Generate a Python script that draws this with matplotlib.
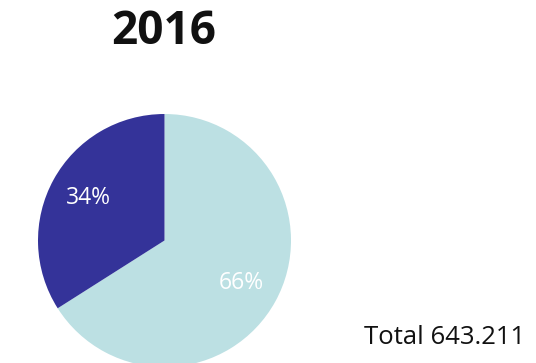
import matplotlib

matplotlib.use("Agg")

from matplotlib import pyplot as plt

year = "2016"
segments = ["Other", "Main"]
shares = [66, 34]
colors = ["#bce0e3", "#343399"]
total_label = "Total 643.211"

fig = plt.figure(figsize=(5.36, 3.63), dpi=100)
ax = fig.add_axes([0, 0, 1, 1])
ax.set_xlim(0, 536)
ax.set_ylim(0, 363)
ax.set_aspect("equal")
ax.axis("off")

wedges, texts, autotexts = ax.pie(
    shares,
    colors=colors,
    startangle=90,
    counterclock=False,
    center=(164.5, 122.5),
    radius=126.5,
    autopct="%d%%",
    pctdistance=0.69,
    wedgeprops={"linewidth": 0},
    textprops={"color": "white", "fontsize": 16.5, "family": "Open Sans"},
)
ax.set_xlim(0, 536)
ax.set_ylim(0, 363)

ax.text(164, 332, year, ha="center", va="center", fontsize=33, weight="bold", family="Open Sans", color="#111111")
ax.text(364, 25, total_label, ha="left", va="center", fontsize=18.5, family="Open Sans", color="#111111")

fig.savefig("out.png", dpi=100)
